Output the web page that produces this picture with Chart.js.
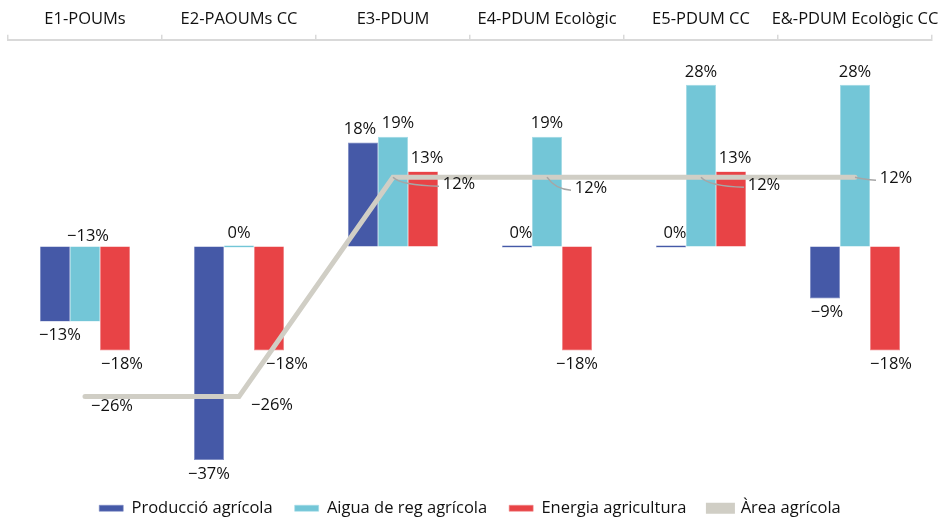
<!DOCTYPE html>
<html>
<head>
<meta charset="utf-8">
<script src="https://cdn.jsdelivr.net/npm/chart.js@4.4.0/dist/chart.umd.min.js"></script>
<style>
  body { margin: 0; background: #fff; }
</style>
</head>
<body>
<canvas id="chart" width="950" height="518"></canvas>
<script>
const categories = ['E1-POUMs', 'E2-PAOUMs CC', 'E3-PDUM', 'E4-PDUM Ecològic', 'E5-PDUM CC', 'E&-PDUM Ecològic CC'];
const produccio = [-13, -37, 18, 0, 0, -9];
const aigua = [-13, 0, 19, 19, 28, 28];
const energia = [-18, -18, 13, -18, 13, -18];
const area = [-26, -26, 12, 12, 12, 12];

const FONT = "'Open Sans', sans-serif";
const FS = 16.5;
const fmt = v => (v < 0 ? '\u2212' + Math.abs(v) : v) + '%';

// hand-placed label nudges, like the original: [dx, dy] or 'base'
const barNudge = {
    '0-0': [5, 0], '1-0': 'base', '2-0': [7, 0],
    '2-1': [18, 0], '0-2': [-3, 0], '1-2': [5, 0], '2-2': [4, 0], '0-3': [4, 0],
    '0-4': [4, 0], '2-4': [4, 0], '2-5': [6, 0], '0-5': [2, 0]
};
// line labels: offset from the point, and whether a leader line is drawn
const lineLabelPos = [[27, 10, false], [33, 9, false], [66, 7, true], [44, 11, true], [63, 8, true], [41, 1, true]];

const labelsPlugin = {
    id: 'valueLabels',
    afterDatasetsDraw(chart) {
        const ctx = chart.ctx;
        ctx.save();
        ctx.font = FS + 'px ' + FONT;
        ctx.fillStyle = '#111';
        ctx.textAlign = 'center';
        ctx.textBaseline = 'middle';
        const zeroY = chart.scales.y.getPixelForValue(0);
        chart.data.datasets.forEach((ds, di) => {
            const meta = chart.getDatasetMeta(di);
            meta.data.forEach((el, i) => {
                const v = ds.data[i];
                if (ds.type === 'line') {
                    const [dx, dy, leader] = lineLabelPos[i];
                    const tx = el.x + dx, ty = el.y + dy;
                    if (leader) {
                        ctx.strokeStyle = '#a6a6a6';
                        ctx.lineWidth = 1.5;
                        ctx.beginPath();
                        ctx.moveTo(el.x, el.y);
                        ctx.quadraticCurveTo(el.x + 8, el.y + dy + 1, tx - 20, ty + 2);
                        ctx.stroke();
                    }
                    ctx.fillText(fmt(v), tx, ty);
                    return;
                }
                const n = barNudge[di + '-' + i];
                let x = el.x, y;
                if (n === 'base') {
                    x += 3;
                    y = zeroY - 10;
                } else {
                    y = v >= 0 ? Math.min(el.y, zeroY) - 13 : el.y + 14;
                    if (n) { x += n[0]; y += n[1]; }
                }
                ctx.fillText(fmt(v), x, y);
            });
        });
        ctx.restore();
    }
};

new Chart(document.getElementById('chart'), {
    data: {
        labels: categories,
        datasets: [
            { type: 'bar', label: 'Producció agrícola', data: produccio, backgroundColor: '#4559a7', borderColor: '#7e8cc4', borderWidth: 0.6, minBarLength: 2, order: 1 },
            { type: 'bar', label: 'Aigua de reg agrícola', data: aigua, backgroundColor: '#73c6d7', borderColor: '#a5dbe6', borderWidth: 0.6, minBarLength: 2, order: 1 },
            { type: 'bar', label: 'Energia agricultura', data: energia, backgroundColor: '#e84346', borderColor: '#f0898b', borderWidth: 0.6, minBarLength: 2, order: 1 },
            { type: 'line', label: 'Àrea agrícola', data: area, borderColor: '#d0cec5', backgroundColor: '#d0cec5', borderWidth: 5, borderCapStyle: 'round', borderJoinStyle: 'miter', pointRadius: 0, tension: 0, order: 0 }
        ]
    },
    options: {
        responsive: false,
        animation: false,
        layout: { padding: { left: 8, right: 18, top: 3, bottom: 0 } },
        datasets: { bar: { barPercentage: 1, categoryPercentage: 0.585 } },
        scales: {
            x: {
                position: 'top',
                grid: { offset: true, drawOnChartArea: false, drawTicks: true, tickLength: 5, color: '#d9d9d9', lineWidth: 1.5 },
                border: { color: '#d9d9d9', width: 2 },
                ticks: { color: '#111', font: { family: FONT, size: FS }, padding: 6, maxRotation: 0, autoSkip: false }
            },
            y: { display: false, min: -40.1, max: 35.8 }
        },
        plugins: {
            legend: {
                position: 'bottom',
                maxHeight: 40,
                labels: {
                    sort: (a, b) => a.datasetIndex - b.datasetIndex,
                    color: '#111',
                    font: { family: FONT, size: FS },
                    boxWidth: 24,
                    boxHeight: 6,
                    padding: 22
                }
            },
            tooltip: { enabled: false }
        }
    },
    plugins: [labelsPlugin]
});
</script>
</body>
</html>
